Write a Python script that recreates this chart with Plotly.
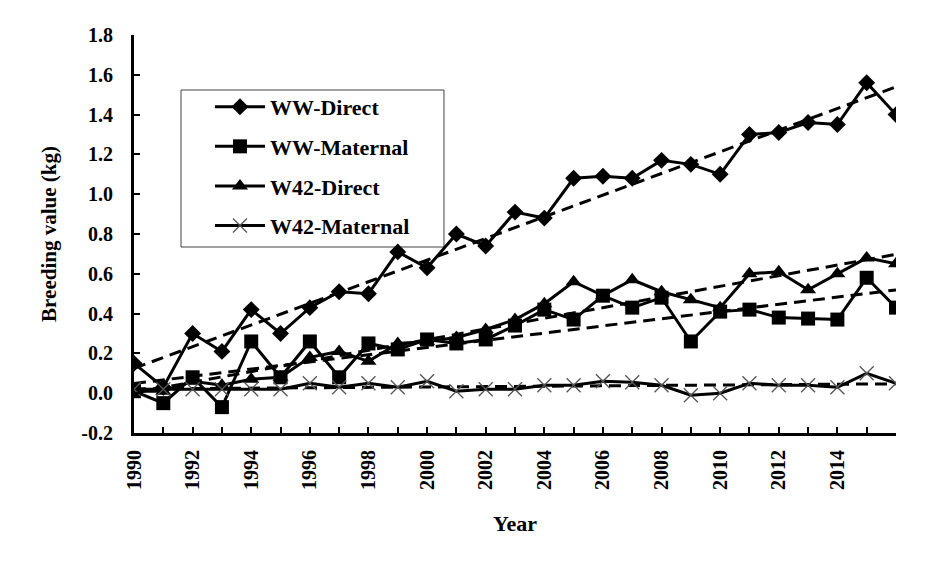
import numpy as np
import plotly.graph_objects as go

years = list(range(1990, 2017))
ww_direct = [0.15, 0.03, 0.30, 0.21, 0.42, 0.30, 0.43, 0.51, 0.50, 0.71, 0.63, 0.80, 0.74, 0.91,
             0.88, 1.08, 1.09, 1.08, 1.17, 1.15, 1.10, 1.30, 1.31, 1.36, 1.35, 1.56, 1.40]
ww_maternal = [0.01, -0.05, 0.08, -0.07, 0.26, 0.08, 0.26, 0.08, 0.25, 0.22, 0.27, 0.25, 0.27, 0.34,
               0.42, 0.37, 0.49, 0.43, 0.48, 0.26, 0.41, 0.42, 0.38, 0.375, 0.37, 0.58, 0.43]
w42_direct = [0.01, 0.01, 0.06, 0.04, 0.07, 0.08, 0.18, 0.21, 0.16, 0.25, 0.26, 0.28, 0.32, 0.37,
              0.45, 0.56, 0.49, 0.57, 0.51, 0.47, 0.43, 0.60, 0.61, 0.52, 0.60, 0.68, 0.65]
w42_maternal = [0.02, 0.02, 0.02, 0.02, 0.02, 0.02, 0.05, 0.03, 0.05, 0.03, 0.06, 0.01, 0.02, 0.02,
                0.04, 0.04, 0.06, 0.055, 0.04, -0.01, 0.00, 0.05, 0.04, 0.04, 0.03, 0.10, 0.05]

series_names = ["WW-Direct", "WW-Maternal", "W42-Direct", "W42-Maternal"]
tick_years = years
tick_text = [str(y) if (y % 2 == 0 and y < 2016) else "" for y in years]
y_tick_vals = [-0.2, 0.0, 0.2, 0.4, 0.6, 0.8, 1.0, 1.2, 1.4, 1.6, 1.8]
y_tick_text = ["-0.2", "0.0", "0.2", "0.4", "0.6", "0.8", "1.0", "1.2", "1.4", "1.6", "1.8"]

FONT = "Liberation Serif"
fig = go.Figure()

styles = [
    dict(symbol="diamond", size=13, color="black", line=dict(width=0)),
    dict(symbol="square", size=14, color="black", line=dict(width=0)),
    dict(symbol="triangle-up", size=14, color="black", line=dict(width=0)),
    dict(symbol="x-thin", size=14, color="#555555", line=dict(width=1.3, color="#555555")),
]
data = [ww_direct, ww_maternal, w42_direct, w42_maternal]

# trend lines (least-squares, as in the original spreadsheet trendlines)
x_arr = np.array(years, dtype=float)
for vals in data:
    k, b = np.polyfit(x_arr, np.array(vals), 1)
    fig.add_trace(go.Scatter(x=[years[0], years[-1]], y=[k * years[0] + b, k * years[-1] + b],
                             mode="lines", line=dict(color="black", width=3, dash="12px,7px"),
                             showlegend=False, hoverinfo="skip"))

for i, (name, vals) in enumerate(zip(series_names, data)):
    fig.add_trace(go.Scatter(x=years, y=vals, mode="lines+markers", name=name,
                             legendgroup=name,
                             line=dict(color="black", width=3),
                             marker=styles[i]))

# legend frame
fig.add_shape(type="rect", xref="paper", yref="paper",
              x0=0.0617, x1=0.4068, y0=0.4673, y1=0.8618,
              line=dict(color="#404040", width=1), fillcolor="white", layer="below")
# faint frame line at the top edge of the image
fig.add_shape(type="line", xref="paper", yref="paper",
              x0=-0.176, x1=1.054, y0=1.080, y1=1.080,
              line=dict(color="#e4e4e4", width=1))

fig.update_layout(
    width=937, height=572,
    margin=dict(l=126, r=49, t=27, b=147),
    paper_bgcolor="white", plot_bgcolor="white",
    font=dict(family=FONT, color="black"),
    showlegend=True,
    legend=dict(x=0.0997, y=0.872, xanchor="left", yanchor="top",
                borderwidth=0, bgcolor="rgba(0,0,0,0)",
                font=dict(family=FONT, size=22, color="black", weight="bold"),
                traceorder="grouped", tracegroupgap=8, itemwidth=50),
    xaxis=dict(range=[1990, 2016], tickmode="array", tickvals=tick_years, ticktext=tick_text,
               tickangle=-90, ticks="inside", ticklen=6, tickwidth=2, tickcolor="black",
               showline=True, linecolor="black", linewidth=3, showgrid=False, zeroline=False,
               automargin=False,
               tickfont=dict(family=FONT, size=20, color="black", weight="bold"),
               ticklabelstandoff=6,
               title=dict(text="Year", font=dict(family=FONT, size=22, color="black", weight="bold"),
                          standoff=27)),
    yaxis=dict(range=[-0.2, 1.8], tickmode="array", tickvals=y_tick_vals, ticktext=y_tick_text,
               ticks="inside", ticklen=6, tickwidth=2, tickcolor="black",
               showline=True, linecolor="black", linewidth=3, showgrid=False, zeroline=False,
               automargin=False,
               tickfont=dict(family=FONT, size=20, color="black", weight="bold"),
               ticklabelstandoff=14,
               title=dict(text="Breeding value (kg)",
                          font=dict(family=FONT, size=21, color="black", weight="bold"),
                          standoff=19)),
)
fig.write_html("out.html")
